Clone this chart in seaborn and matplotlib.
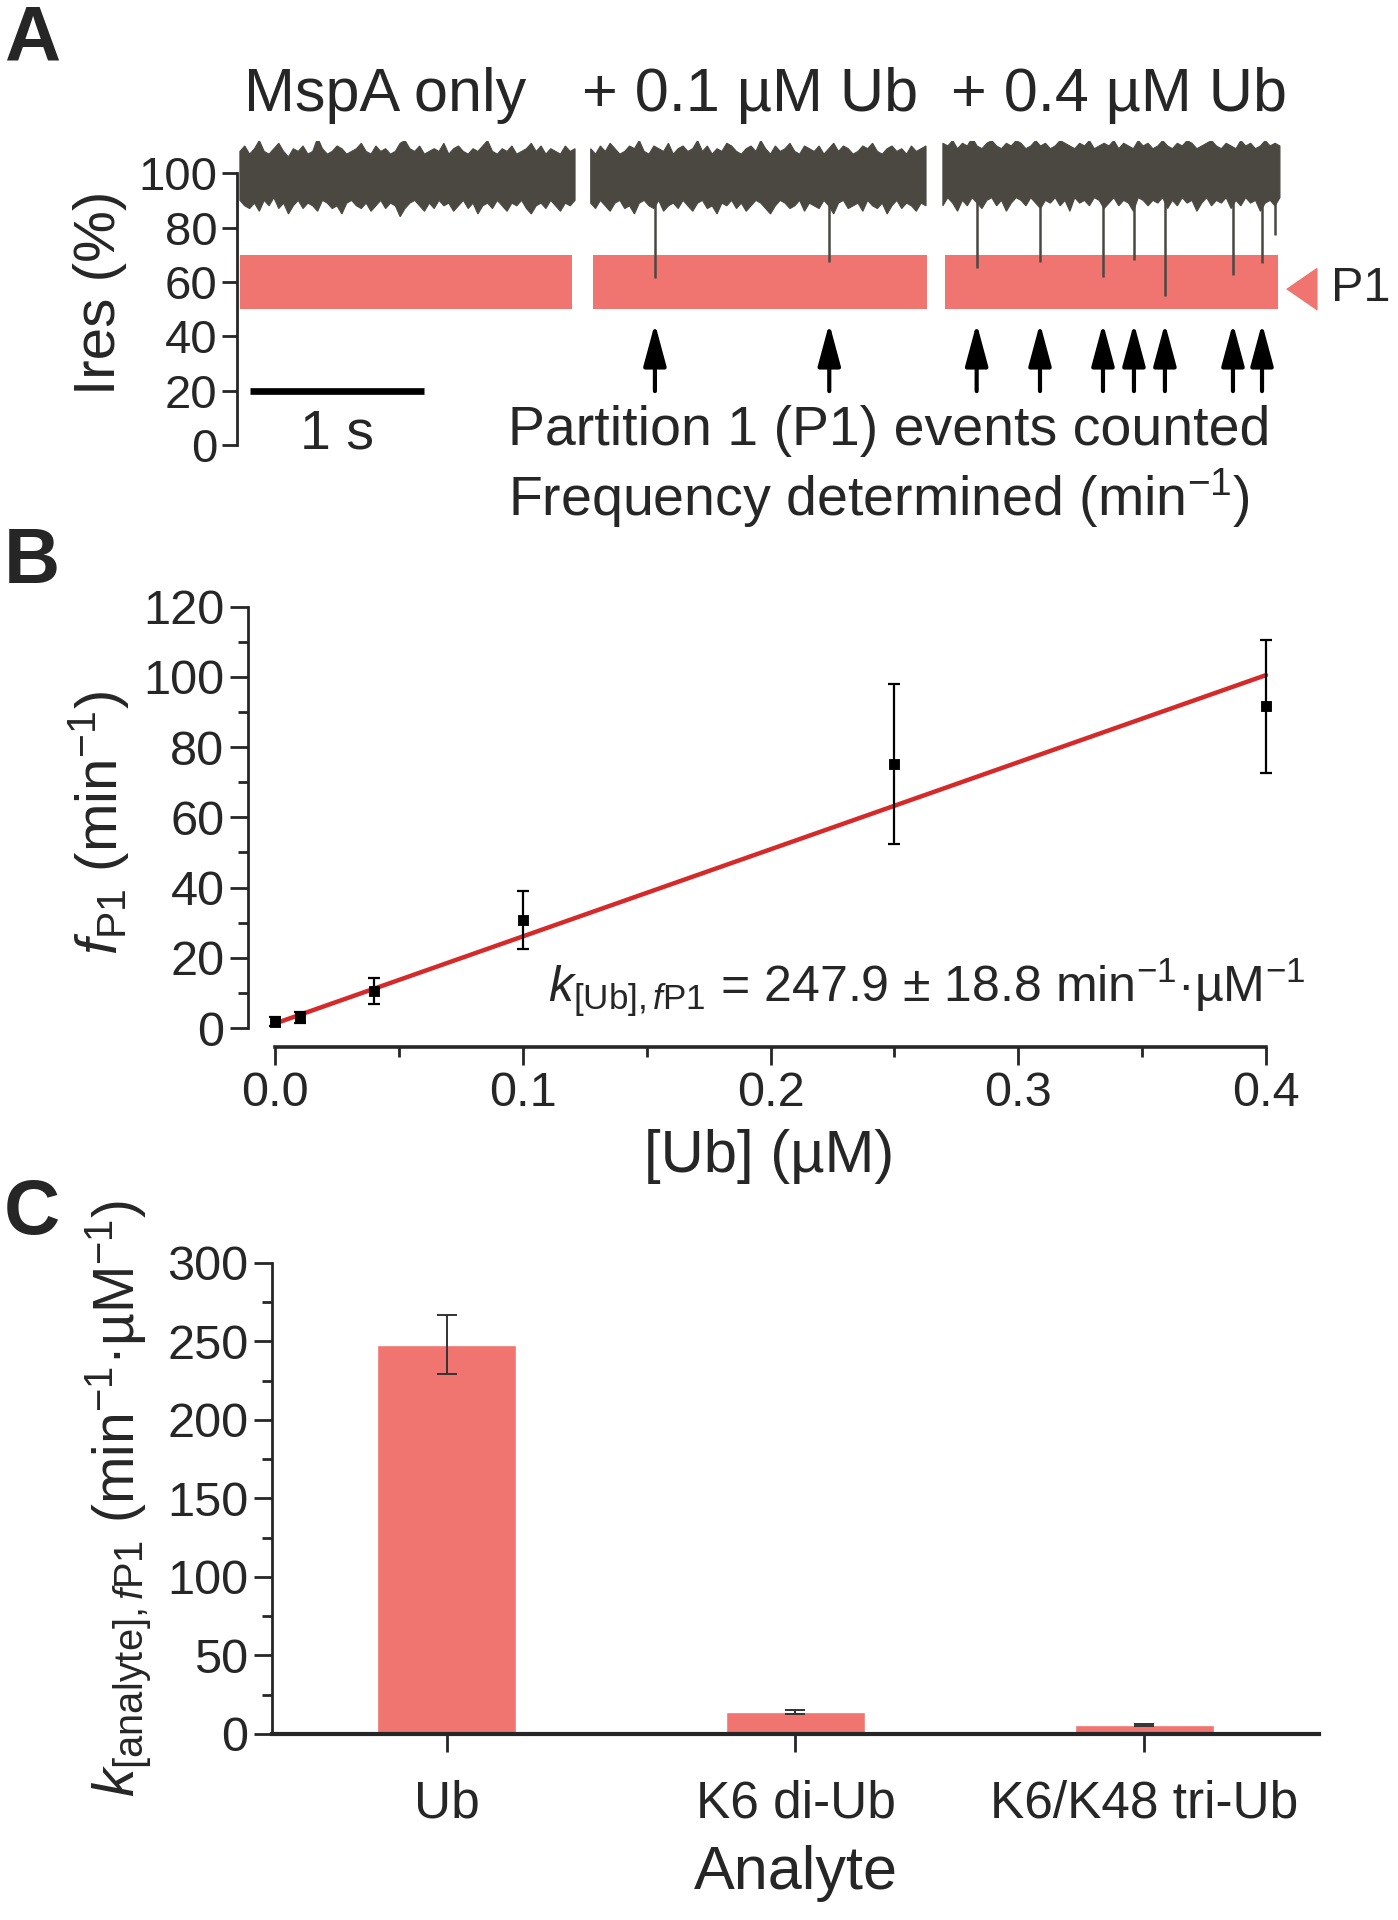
import matplotlib
matplotlib.use('Agg')
import matplotlib.pyplot as plt
import numpy as np
import pandas as pd
import seaborn as sns

# ---------------- panel A: current traces ----------------
conditions = ['MspA only', '+ 0.1 µM Ub', '+ 0.4 µM Ub']
title_x = [0.85, 2.95, 5.07]
seg_start = [0.017, 2.033, 4.057]
seg_end = [1.943, 3.960, 5.994]
band_start = [0.017, 2.044, 4.069]
band_end = [1.925, 3.964, 5.983]
p1_low, p1_high = 50, 70

seg1_top = [108, 110, 107, 109, 112, 108, 107, 109, 111, 108, 106, 109, 108, 110, 107, 108, 113, 109, 107, 108,
            110, 109, 107, 108, 109, 111, 108, 107, 110, 108, 109, 107, 108, 111, 112, 109, 108, 110, 107, 108,
            109, 108, 111, 107, 109, 110, 108, 107, 109, 108, 110, 112, 108, 107, 109, 108, 110, 107, 108, 109,
            111, 108, 110, 107, 109, 108, 107, 110, 108, 109]
seg1_bot = [90, 88, 87, 89, 86, 90, 88, 91, 87, 89, 85, 88, 90, 87, 89, 88, 86, 90, 89, 87,
            88, 85, 89, 90, 88, 87, 89, 86, 88, 90, 87, 89, 88, 84, 87, 89, 90, 88, 86, 89,
            87, 90, 88, 89, 86, 88, 90, 87, 89, 85, 88, 89, 87, 90, 88, 86, 89, 88, 90, 87,
            85, 88, 89, 87, 90, 88, 86, 89, 88, 90]
seg2_top = [109, 107, 110, 108, 111, 109, 107, 108, 110, 109, 112, 108, 107, 110, 109, 108, 111, 107, 109, 110,
            108, 109, 112, 108, 110, 107, 109, 108, 111, 110, 108, 107, 109, 110, 108, 112, 109, 107, 110, 108,
            109, 111, 108, 107, 110, 109, 108, 110, 107, 109, 111, 108, 110, 109, 107, 108, 110, 109, 111, 108,
            107, 109, 110, 108, 109, 107, 110, 108, 109, 110]
seg2_bot = [89, 87, 90, 88, 86, 89, 90, 87, 88, 85, 89, 90, 88, 87, 90, 86, 88, 89, 87, 90,
            88, 86, 89, 90, 87, 88, 85, 89, 88, 90, 87, 89, 86, 88, 90, 89, 87, 85, 88, 90,
            89, 87, 88, 90, 86, 89, 88, 87, 90, 88, 85, 89, 90, 87, 88, 89, 86, 90, 88, 87,
            89, 85, 88, 90, 87, 89, 88, 86, 89, 88]
seg3_top = [111, 110, 112, 109, 111, 110, 113, 110, 109, 111, 112, 110, 109, 111, 110, 112, 111, 109, 110, 112,
            110, 111, 109, 110, 112, 111, 110, 109, 111, 110, 112, 109, 110, 111, 110, 112, 109, 111, 110, 109,
            112, 110, 111, 109, 110, 112, 110, 109, 111, 110, 112, 111, 109, 110, 111, 112, 110, 109, 111, 110,
            109, 112, 110, 111, 109, 110, 112, 110, 111, 110]
seg3_bot = [88, 91, 89, 86, 90, 88, 91, 89, 87, 90, 91, 88, 90, 86, 89, 91, 90, 88, 91, 89,
            87, 90, 89, 91, 88, 90, 86, 91, 89, 90, 88, 91, 90, 87, 89, 91, 88, 90, 89, 86,
            91, 90, 88, 90, 89, 91, 87, 90, 88, 91, 89, 90, 86, 89, 91, 88, 90, 89, 91, 87,
            90, 88, 91, 89, 90, 86, 89, 90, 88, 91]
seg_tops = [seg1_top, seg2_top, seg3_top]
seg_bots = [seg1_bot, seg2_bot, seg3_bot]

event_t = [2.402, 3.404, 4.251, 4.615, 4.977, 5.155, 5.333, 5.724, 5.891, 5.966]
event_depth = [61.5, 67.5, 65.2, 67.5, 62.0, 68.1, 55.0, 62.6, 66.9, 77.3]
event_counted = [True, True, True, True, True, True, True, True, True, False]

# ---------------- panel B: frequency vs [Ub] ----------------
conc = [0.0, 0.01, 0.04, 0.1, 0.25, 0.4]
freq = [1.8, 3.0, 10.5, 30.8, 75.2, 91.6]
freq_err = [1.2, 1.5, 3.8, 8.3, 22.9, 18.9]
fit_x = [0.0, 0.4]
fit_y = [1.3, 100.5]

# ---------------- panel C: rate constants ----------------
analytes = ['Ub', 'K6 di-Ub', 'K6/K48 tri-Ub']
k_vals = [247.9, 14.2, 5.6]
k_err = [18.8, 1.2, 0.8]

PINK = '#f0746f'
TRACE = '#4b4842'
RED = '#d42a2a'

sns.set_style('ticks')
plt.rcParams['font.family'] = ['Liberation Sans', 'DejaVu Sans']
plt.rcParams['mathtext.fontset'] = 'custom'
plt.rcParams['mathtext.rm'] = 'Liberation Sans'
plt.rcParams['mathtext.it'] = 'Liberation Sans:italic'
plt.rcParams['mathtext.bf'] = 'Liberation Sans:bold'
plt.rcParams['axes.linewidth'] = 2

fig = plt.figure(figsize=(13.98, 19.2), dpi=100)

# ---- A ----
axa = fig.add_axes([0.1695, 0.7681, 0.7468, 0.1587])
for i in range(3):
    xt = np.linspace(seg_start[i], seg_end[i], len(seg_tops[i]))
    xb = np.linspace(seg_start[i], seg_end[i], len(seg_bots[i]))
    axa.fill(np.concatenate([xt, xb[::-1]]), np.concatenate([seg_tops[i], seg_bots[i][::-1]]),
             color=TRACE, lw=0.8, edgecolor=TRACE)
    axa.fill_between([band_start[i], band_end[i]], p1_low, p1_high, color=PINK, lw=0)
    axa.text(title_x[i], 123, conditions[i], ha='center', va='baseline', fontsize=44)

axa.vlines(event_t, event_depth, 90, color=TRACE, lw=1.8)
for t, c in zip(event_t, event_counted):
    if c:
        axa.annotate('', xy=(t, 44.8), xytext=(t, 19.9),
                     arrowprops=dict(arrowstyle='-|>,head_length=1.3,head_width=0.35',
                                     mutation_scale=20, color='black', lw=3, shrinkA=0, shrinkB=0))

axa.plot([0.075, 1.075], [20, 20], color='black', lw=4.8, solid_capstyle='butt')
axa.text(0.575, 4.1, '1 s', ha='center', va='center', fontsize=40)
axa.plot([6.15], [57.5], marker=[(-1, 0), (0.45, 1), (0.45, -1)], markersize=30,
         color=PINK, clip_on=False, lw=0)
axa.text(6.285, 57.5, 'P1', ha='left', va='center', fontsize=35)
axa.text(1.557, 5.3, 'Partition 1 (P1) events counted', ha='left', va='center', fontsize=40)
axa.text(1.557, -19.4, 'Frequency determined (min$^{-1}$)', ha='left', va='center', fontsize=40)

axa.set_xlim(0, 6.0)
axa.set_ylim(0, 112)
axa.set_yticks([0, 20, 40, 60, 80, 100])
axa.set_xticks([])
for s in ['top', 'right', 'bottom']:
    axa.spines[s].set_visible(False)
axa.spines['left'].set_bounds(0, 100)
axa.tick_params(axis='y', length=11, width=2, labelsize=34, pad=3)
axa.set_ylabel('Ires (%)', fontsize=42, labelpad=8)

# ---- B ----
axb = fig.add_axes([0.1774, 0.4547, 0.7459, 0.2330])
axb.errorbar(conc, freq, yerr=freq_err, fmt='none', ecolor='black', elinewidth=1.6,
             capsize=4.5, capthick=1.6, zorder=3)
sns.lineplot(x=fit_x, y=fit_y, color=RED, lw=3.2, ax=axb, zorder=2)
sns.scatterplot(x=conc, y=freq, marker='s', color='black', edgecolor='black', s=60, ax=axb, zorder=4)
axb.set_xlim(-0.011, 0.41)
axb.set_ylim(-5.4, 122)
axb.set_xticks([0.0, 0.1, 0.2, 0.3, 0.4])
axb.set_xticklabels(['0.0', '0.1', '0.2', '0.3', '0.4'])
axb.set_xticks([0.05, 0.15, 0.25, 0.35], minor=True)
axb.set_yticks([0, 20, 40, 60, 80, 100, 120])
axb.set_yticks([10, 30, 50, 70, 90, 110], minor=True)
for s in ['top', 'right']:
    axb.spines[s].set_visible(False)
axb.spines['left'].set_bounds(0, 120)
axb.spines['bottom'].set_bounds(0, 0.4)
axb.spines['bottom'].set_linewidth(2.6)
axb.tick_params(axis='both', which='major', length=13, width=2, labelsize=35, pad=4)
axb.tick_params(axis='both', which='minor', length=7, width=2)
axb.set_xlabel('[Ub] (µM)', fontsize=43, labelpad=10)
axb.set_ylabel(r'$\mathit{f}_{\mathrm{P1}}$ (min$^{-1}$)', fontsize=42)
axb.yaxis.set_label_coords(-0.112, 0.5)
axb.text(0.11, 7.5, r'$k_{\mathrm{[Ub]},\mathit{f}\mathrm{P1}}$ = 247.9 ± 18.8 min$^{-1}$·µM$^{-1}$',
         ha='left', va='baseline', fontsize=36)

# ---- C ----
axc = fig.add_axes([0.1946, 0.0969, 0.7488, 0.2453])
sns.barplot(x=analytes, y=k_vals, color=PINK, saturation=1, width=0.4, ax=axc, zorder=2)
axc.errorbar(range(len(analytes)), k_vals, yerr=k_err, fmt='none', ecolor='#333333',
             elinewidth=1.4, capsize=7, capthick=1.4, zorder=3)
axc.set_xlim(-0.5, 2.5)
axc.set_ylim(0, 300)
axc.set_yticks([0, 50, 100, 150, 200, 250, 300])
axc.set_yticks([25, 75, 125, 175, 225, 275], minor=True)
for s in ['top', 'right']:
    axc.spines[s].set_visible(False)
axc.spines['bottom'].set_linewidth(3)
axc.tick_params(axis='both', which='major', length=13, width=2, labelsize=35, pad=4)
axc.tick_params(axis='x', labelsize=37, pad=20)
axc.tick_params(axis='y', which='minor', length=7, width=2)
axc.set_xlabel('Analyte', fontsize=44, labelpad=12)
axc.set_ylabel(r'$k_{\mathrm{[analyte]},\mathit{f}\mathrm{P1}}$ (min$^{-1}$·µM$^{-1}$)', fontsize=41)
axc.yaxis.set_label_coords(-0.114, 0.5)

fig.text(0.003, 0.998, 'A', fontsize=56, fontweight='bold', va='top', ha='left')
fig.text(0.003, 0.726, 'B', fontsize=56, fontweight='bold', va='top', ha='left')
fig.text(0.003, 0.387, 'C', fontsize=56, fontweight='bold', va='top', ha='left')

fig.savefig('out.png', dpi=100)
plt.close(fig)
